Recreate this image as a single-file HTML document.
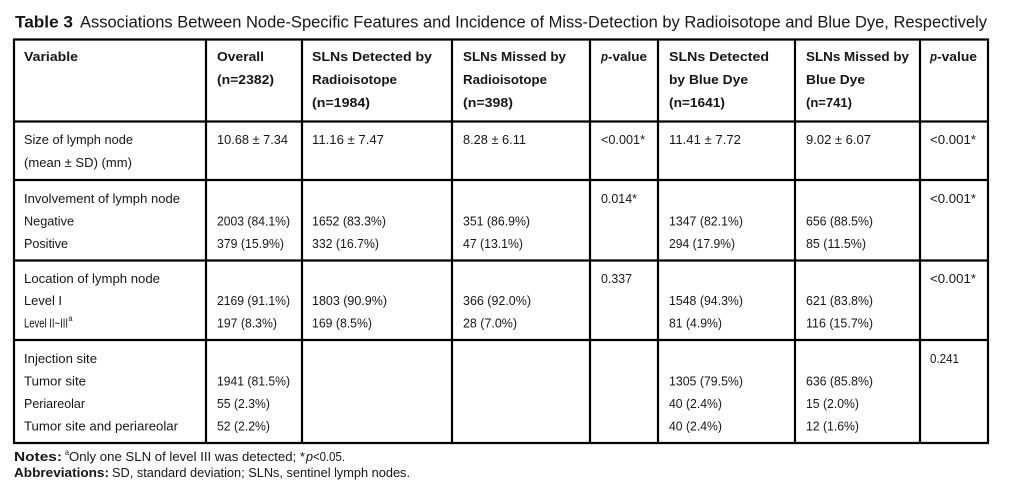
<!DOCTYPE html>
<html>
<head>
<meta charset="utf-8">
<style>
html,body{margin:0;padding:0;background:#fff;}
svg{display:block;}
text{font-family:"Liberation Sans",sans-serif;fill:#161616;}
.t{font-size:17px;}
.h{font-size:13px;font-weight:bold;}
.b{font-size:13px;}
.s{font-size:8px;}
</style>
</head>
<body>
<svg width="1024" height="500" viewBox="0 0 1024 500" xmlns="http://www.w3.org/2000/svg">
<rect width="1024" height="500" fill="#fff"/>
<!-- title -->
<text class="t" x="15" y="27.5" font-weight="bold" textLength="58" lengthAdjust="spacingAndGlyphs">Table 3</text>
<text class="t" x="80" y="27.5" textLength="907" lengthAdjust="spacingAndGlyphs">Associations Between Node-Specific Features and Incidence of Miss-Detection by Radioisotope and Blue Dye, Respectively</text>

<!-- grid -->
<g stroke="#000" stroke-width="2.2">
<line x1="13" y1="39.5" x2="989" y2="39.5"/>
<line x1="13" y1="121.5" x2="989" y2="121.5"/>
<line x1="13" y1="180" x2="989" y2="180"/>
<line x1="13" y1="260.5" x2="989" y2="260.5"/>
<line x1="13" y1="340" x2="989" y2="340"/>
<line x1="13" y1="443" x2="989" y2="443"/>
<line x1="14" y1="38.5" x2="14" y2="444"/>
<line x1="206" y1="38.5" x2="206" y2="444"/>
<line x1="302" y1="38.5" x2="302" y2="444"/>
<line x1="452" y1="38.5" x2="452" y2="444"/>
<line x1="590" y1="38.5" x2="590" y2="444"/>
<line x1="658" y1="38.5" x2="658" y2="444"/>
<line x1="795" y1="38.5" x2="795" y2="444"/>
<line x1="920" y1="38.5" x2="920" y2="444"/>
<line x1="988" y1="38.5" x2="988" y2="444"/>
</g>

<!-- header -->
<text class="h" x="24" y="61" textLength="54" lengthAdjust="spacingAndGlyphs">Variable</text>
<text class="h" x="217" y="61" textLength="47" lengthAdjust="spacingAndGlyphs">Overall</text>
<text class="h" x="217" y="84" textLength="57" lengthAdjust="spacingAndGlyphs">(n=2382)</text>
<text class="h" x="312" y="61" textLength="120" lengthAdjust="spacingAndGlyphs">SLNs Detected by</text>
<text class="h" x="312" y="84" textLength="85" lengthAdjust="spacingAndGlyphs">Radioisotope</text>
<text class="h" x="312" y="107" textLength="58" lengthAdjust="spacingAndGlyphs">(n=1984)</text>
<text class="h" x="463" y="61" textLength="103" lengthAdjust="spacingAndGlyphs">SLNs Missed by</text>
<text class="h" x="463" y="84" textLength="84" lengthAdjust="spacingAndGlyphs">Radioisotope</text>
<text class="h" x="463" y="107" textLength="50" lengthAdjust="spacingAndGlyphs">(n=398)</text>
<text class="h" x="601" y="61" font-style="italic" textLength="7" lengthAdjust="spacingAndGlyphs">p</text>
<text class="h" x="608" y="61" textLength="39" lengthAdjust="spacingAndGlyphs">-value</text>
<text class="h" x="669" y="61" textLength="100" lengthAdjust="spacingAndGlyphs">SLNs Detected</text>
<text class="h" x="669" y="84" textLength="79" lengthAdjust="spacingAndGlyphs">by Blue Dye</text>
<text class="h" x="669" y="107" textLength="56" lengthAdjust="spacingAndGlyphs">(n=1641)</text>
<text class="h" x="806" y="61" textLength="103" lengthAdjust="spacingAndGlyphs">SLNs Missed by</text>
<text class="h" x="806" y="84" textLength="59" lengthAdjust="spacingAndGlyphs">Blue Dye</text>
<text class="h" x="806" y="107" textLength="46" lengthAdjust="spacingAndGlyphs">(n=741)</text>
<text class="h" x="930" y="61" font-style="italic" textLength="7" lengthAdjust="spacingAndGlyphs">p</text>
<text class="h" x="937" y="61" textLength="40" lengthAdjust="spacingAndGlyphs">-value</text>

<!-- row 1 -->
<text class="b" x="24" y="144" textLength="109" lengthAdjust="spacingAndGlyphs">Size of lymph node</text>
<text class="b" x="24" y="167" textLength="108" lengthAdjust="spacingAndGlyphs">(mean ± SD) (mm)</text>
<text class="b" x="217" y="144" textLength="71" lengthAdjust="spacingAndGlyphs">10.68 ± 7.34</text>
<text class="b" x="312" y="144" textLength="72" lengthAdjust="spacingAndGlyphs">11.16 ± 7.47</text>
<text class="b" x="463" y="144" textLength="63" lengthAdjust="spacingAndGlyphs">8.28 ± 6.11</text>
<text class="b" x="601" y="144" textLength="44" lengthAdjust="spacingAndGlyphs">&lt;0.001*</text>
<text class="b" x="669" y="144" textLength="72" lengthAdjust="spacingAndGlyphs">11.41 ± 7.72</text>
<text class="b" x="806" y="144" textLength="65" lengthAdjust="spacingAndGlyphs">9.02 ± 6.07</text>
<text class="b" x="930" y="144" textLength="46" lengthAdjust="spacingAndGlyphs">&lt;0.001*</text>

<!-- row 2 -->
<text class="b" x="24" y="203" textLength="156" lengthAdjust="spacingAndGlyphs">Involvement of lymph node</text>
<text class="b" x="24" y="225.5" textLength="50" lengthAdjust="spacingAndGlyphs">Negative</text>
<text class="b" x="24" y="248" textLength="44" lengthAdjust="spacingAndGlyphs">Positive</text>
<text class="b" x="217" y="225.5" textLength="73" lengthAdjust="spacingAndGlyphs">2003 (84.1%)</text>
<text class="b" x="217" y="248" textLength="67" lengthAdjust="spacingAndGlyphs">379 (15.9%)</text>
<text class="b" x="312" y="225.5" textLength="74" lengthAdjust="spacingAndGlyphs">1652 (83.3%)</text>
<text class="b" x="312" y="248" textLength="67" lengthAdjust="spacingAndGlyphs">332 (16.7%)</text>
<text class="b" x="463" y="225.5" textLength="67" lengthAdjust="spacingAndGlyphs">351 (86.9%)</text>
<text class="b" x="463" y="248" textLength="60" lengthAdjust="spacingAndGlyphs">47 (13.1%)</text>
<text class="b" x="601" y="203" textLength="36" lengthAdjust="spacingAndGlyphs">0.014*</text>
<text class="b" x="669" y="225.5" textLength="74" lengthAdjust="spacingAndGlyphs">1347 (82.1%)</text>
<text class="b" x="669" y="248" textLength="66" lengthAdjust="spacingAndGlyphs">294 (17.9%)</text>
<text class="b" x="806" y="225.5" textLength="67" lengthAdjust="spacingAndGlyphs">656 (88.5%)</text>
<text class="b" x="806" y="248" textLength="60" lengthAdjust="spacingAndGlyphs">85 (11.5%)</text>
<text class="b" x="930" y="203" textLength="46" lengthAdjust="spacingAndGlyphs">&lt;0.001*</text>

<!-- row 3 -->
<text class="b" x="24" y="283" textLength="136" lengthAdjust="spacingAndGlyphs">Location of lymph node</text>
<text class="b" x="24" y="305" textLength="38" lengthAdjust="spacingAndGlyphs">Level I</text>
<text class="b" x="24" y="327.5" textLength="44" lengthAdjust="spacingAndGlyphs">Level II~III</text>
<text class="s" x="68.5" y="321" textLength="4" lengthAdjust="spacingAndGlyphs">a</text>
<text class="b" x="217" y="305" textLength="73" lengthAdjust="spacingAndGlyphs">2169 (91.1%)</text>
<text class="b" x="217" y="327.5" textLength="60" lengthAdjust="spacingAndGlyphs">197 (8.3%)</text>
<text class="b" x="312" y="305" textLength="75" lengthAdjust="spacingAndGlyphs">1803 (90.9%)</text>
<text class="b" x="312" y="327.5" textLength="60" lengthAdjust="spacingAndGlyphs">169 (8.5%)</text>
<text class="b" x="463" y="305" textLength="68" lengthAdjust="spacingAndGlyphs">366 (92.0%)</text>
<text class="b" x="463" y="327.5" textLength="54" lengthAdjust="spacingAndGlyphs">28 (7.0%)</text>
<text class="b" x="601" y="283" textLength="31" lengthAdjust="spacingAndGlyphs">0.337</text>
<text class="b" x="669" y="305" textLength="74" lengthAdjust="spacingAndGlyphs">1548 (94.3%)</text>
<text class="b" x="669" y="327.5" textLength="53" lengthAdjust="spacingAndGlyphs">81 (4.9%)</text>
<text class="b" x="806" y="305" textLength="67" lengthAdjust="spacingAndGlyphs">621 (83.8%)</text>
<text class="b" x="806" y="327.5" textLength="67" lengthAdjust="spacingAndGlyphs">116 (15.7%)</text>
<text class="b" x="930" y="283" textLength="46" lengthAdjust="spacingAndGlyphs">&lt;0.001*</text>

<!-- row 4 -->
<text class="b" x="24" y="363" textLength="73" lengthAdjust="spacingAndGlyphs">Injection site</text>
<text class="b" x="24" y="385.7" textLength="62" lengthAdjust="spacingAndGlyphs">Tumor site</text>
<text class="b" x="24" y="408" textLength="61" lengthAdjust="spacingAndGlyphs">Periareolar</text>
<text class="b" x="24" y="430.5" textLength="154" lengthAdjust="spacingAndGlyphs">Tumor site and periareolar</text>
<text class="b" x="217" y="385.7" textLength="73" lengthAdjust="spacingAndGlyphs">1941 (81.5%)</text>
<text class="b" x="217" y="408" textLength="53" lengthAdjust="spacingAndGlyphs">55 (2.3%)</text>
<text class="b" x="217" y="430.5" textLength="53" lengthAdjust="spacingAndGlyphs">52 (2.2%)</text>
<text class="b" x="669" y="385.7" textLength="74" lengthAdjust="spacingAndGlyphs">1305 (79.5%)</text>
<text class="b" x="669" y="408" textLength="53" lengthAdjust="spacingAndGlyphs">40 (2.4%)</text>
<text class="b" x="669" y="430.5" textLength="53" lengthAdjust="spacingAndGlyphs">40 (2.4%)</text>
<text class="b" x="806" y="385.7" textLength="67" lengthAdjust="spacingAndGlyphs">636 (85.8%)</text>
<text class="b" x="806" y="408" textLength="53" lengthAdjust="spacingAndGlyphs">15 (2.0%)</text>
<text class="b" x="806" y="430.5" textLength="53" lengthAdjust="spacingAndGlyphs">12 (1.6%)</text>
<text class="b" x="930" y="363" textLength="29" lengthAdjust="spacingAndGlyphs">0.241</text>

<!-- notes -->
<text class="h" x="14" y="461" textLength="48" lengthAdjust="spacingAndGlyphs">Notes:</text>
<text class="s" x="65" y="455" textLength="4" lengthAdjust="spacingAndGlyphs">a</text>
<text class="b" x="69" y="461" textLength="236" lengthAdjust="spacingAndGlyphs">Only one SLN of level III was detected; *</text>
<text class="b" x="306" y="461" font-style="italic" textLength="7" lengthAdjust="spacingAndGlyphs">p</text>
<text class="b" x="313" y="461" textLength="32" lengthAdjust="spacingAndGlyphs">&lt;0.05.</text>
<text class="h" x="14" y="477" textLength="95" lengthAdjust="spacingAndGlyphs">Abbreviations:</text>
<text class="b" x="112" y="477" textLength="298" lengthAdjust="spacingAndGlyphs">SD, standard deviation; SLNs, sentinel lymph nodes.</text>
</svg>
</body>
</html>
